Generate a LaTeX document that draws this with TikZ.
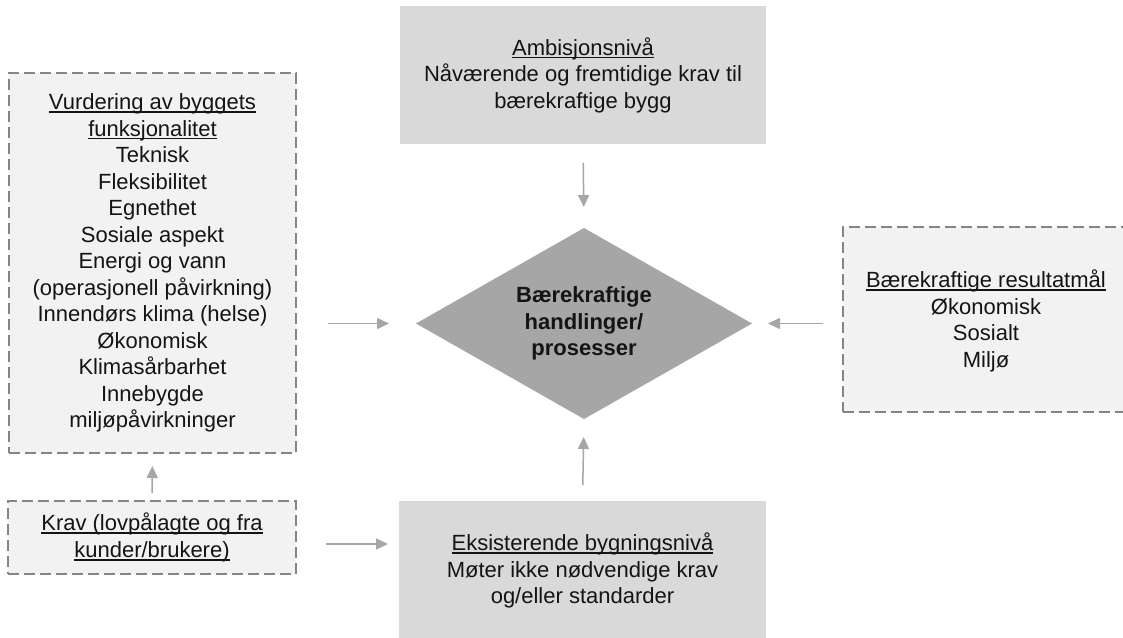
\documentclass[tikz,border=0pt]{standalone}
\usepackage{fontspec}
\setmainfont{Liberation Sans}
\usetikzlibrary{shapes.geometric,arrows.meta}

\definecolor{boxline}{HTML}{858585}
\definecolor{lightfill}{HTML}{F2F2F2}
\definecolor{midfill}{HTML}{D9D9D9}
\definecolor{darkfill}{HTML}{A6A6A6}
\definecolor{arrowgray}{HTML}{A6A6A6}
\definecolor{ink}{HTML}{141414}

% underline that sits just under the baseline, crossing descenders
\newcommand\ulword[1]{\setbox0\hbox{#1}\leavevmode\rlap{\rule[-3.2pt]{\wd0}{1.6pt}}\box0}

\begin{document}
\begin{tikzpicture}[x=1pt,y=-1pt,
  txt/.style={text=ink, align=center, font=\fontsize{22}{26.5}\selectfont, inner sep=0, outer sep=0},
  dashbox/.style={txt, draw=boxline, fill=lightfill, line width=1.5pt, dash pattern=on 11pt off 5pt},
  solidbox/.style={txt, fill=midfill},
  flow/.style={draw=arrowgray, line width=1.5pt, -{Triangle[length=12pt,width=11pt]}}]

\useasboundingbox[fill=white] (0,0) rectangle (1123,637);

% input boxes (dashed)
\node[dashbox, minimum width=287pt, minimum height=380pt] (vurd) at (152.5,263)
  {\ulword{Vurdering av byggets}\\ \ulword{funksjonalitet}\\ Teknisk\\ Fleksibilitet\\ Egnethet\\
   Sosiale aspekt\\ Energi og vann\\ (operasjonell påvirkning)\\ Innendørs klima (helse)\\
   Økonomisk\\ Klimasårbarhet\\ Innebygde\\ miljøpåvirkninger};

\node[dashbox, minimum width=288pt, minimum height=73pt] (krav) at (152,537.5)
  {\ulword{Krav (lovpålagte og fra}\\ \ulword{kunder/brukere)}};

% the result box runs on past the right edge of the page
\node[dashbox, minimum width=300pt, minimum height=185pt] (res) at (993,319.5) {};
\node[txt] (restext) at (986,321)
  {\ulword{Bærekraftige resultatmål}\\ Økonomisk\\ Sosialt\\ Miljø};

% level boxes (solid)
\node[solidbox, minimum width=366pt, minimum height=138pt] (amb) at (583,75)
  {\ulword{Ambisjonsnivå}\\ Nåværende og fremtidige krav til\\ bærekraftige bygg};

\node[solidbox, minimum width=367pt, minimum height=139pt] (eks) at (582.5,570.5)
  {\ulword{Eksisterende bygningsnivå}\\ Møter ikke nødvendige krav\\ og/eller standarder};

% central decision diamond
\node[diamond, fill=darkfill, aspect=1.76, minimum width=336pt, minimum height=191pt,
      inner sep=0, outer sep=0, text=ink, align=center,
      font=\fontsize{22}{26.5}\selectfont\bfseries] (core) at (584,323.5)
  {Bærekraftige\\ handlinger/\\ prosesser};

% connectors
\draw[flow, shorten <=19pt, shorten >=21pt] (amb.south) -- (core.north);
\draw[flow, shorten <=16pt, shorten >=18pt] (eks.north) -- (core.south);
\draw[flow, shorten <=32pt, shorten >=27pt] (vurd.east |- core.west) -- (core.west);
\draw[flow, shorten <=20pt, shorten >=16pt] (res.west |- core.east) -- (core.east);
\draw[flow, shorten <=8pt, shorten >=13pt] (krav.north) -- (vurd.south);
\draw[flow, shorten <=30pt, shorten >=11pt] ([yshift=-6.5pt]krav.east) -- ([yshift=-6.5pt]krav.east -| eks.west);
\end{tikzpicture}
\end{document}
